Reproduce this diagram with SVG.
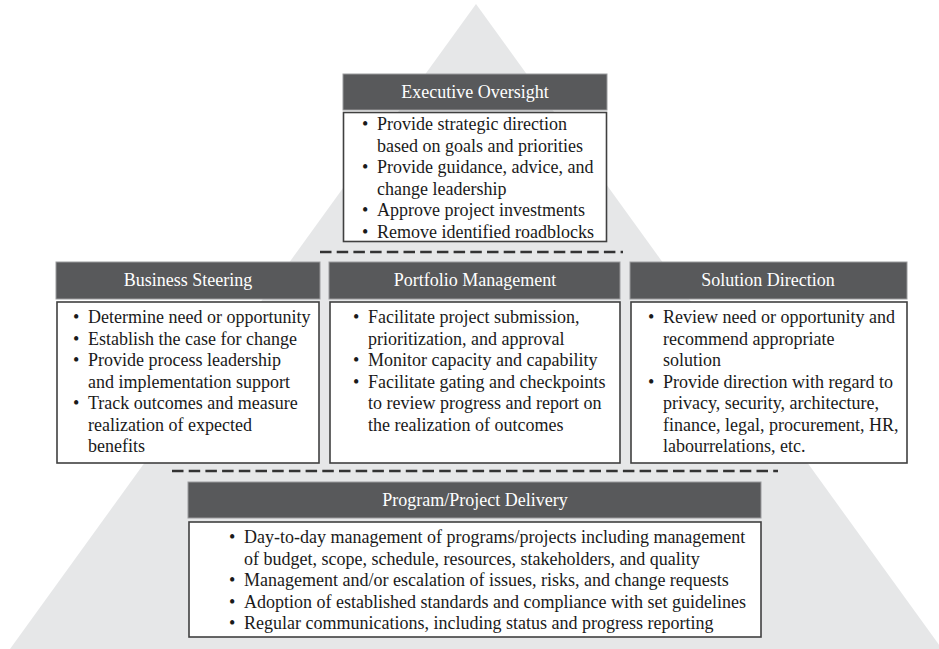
<svg xmlns="http://www.w3.org/2000/svg" width="939" height="649" viewBox="0 0 939 649">
<style>
.hdr{fill:#58595b;stroke:#9a9b9d;stroke-width:1}
.body{fill:#ffffff;stroke:#404040;stroke-width:1.6}
.ht{font-family:"Liberation Serif","Times New Roman",serif;font-size:18px;fill:#ffffff;text-anchor:middle}
.bt{font-family:"Liberation Serif","Times New Roman",serif;font-size:18px;fill:#1a1a1a}
.dash{stroke:#333333;stroke-width:2.5;stroke-dasharray:11.5 5.2;fill:none}
</style>
<rect x="0" y="0" width="939" height="649" fill="#ffffff"/>
<polygon id="pyramid" points="476,4 10,649 942,649" fill="#e6e7e8"/>
<g id="dividers">
<line class="dash" x1="320" y1="252" x2="623" y2="252"/>
<line class="dash" x1="172" y1="471" x2="778" y2="471"/>
</g>
<g id="executive-oversight">
<rect class="hdr" x="343" y="74" width="264" height="36"/>
<text class="ht" x="475" y="98">Executive Oversight</text>
<rect class="body" x="343.5" y="112.5" width="263" height="129"/>
<text class="bt" x="362" y="130">•</text><text class="bt" x="377" y="130">Provide strategic direction</text>
<text class="bt" x="377" y="151.5">based on goals and priorities</text>
<text class="bt" x="362" y="173">•</text><text class="bt" x="377" y="173">Provide guidance, advice, and</text>
<text class="bt" x="377" y="194.5">change leadership</text>
<text class="bt" x="362" y="216">•</text><text class="bt" x="377" y="216">Approve project investments</text>
<text class="bt" x="362" y="237.5">•</text><text class="bt" x="377" y="237.5">Remove identified roadblocks</text>
</g>
<g id="business-steering">
<rect class="hdr" x="56" y="262" width="264" height="37"/>
<text class="ht" x="188" y="286">Business Steering</text>
<rect class="body" x="57" y="302" width="262" height="161"/>
<text class="bt" x="73" y="323">•</text><text class="bt" x="88" y="323">Determine need or opportunity</text>
<text class="bt" x="73" y="344.5">•</text><text class="bt" x="88" y="344.5">Establish the case for change</text>
<text class="bt" x="73" y="366">•</text><text class="bt" x="88" y="366">Provide process leadership</text>
<text class="bt" x="88" y="387.5">and implementation support</text>
<text class="bt" x="73" y="409">•</text><text class="bt" x="88" y="409">Track outcomes and measure</text>
<text class="bt" x="88" y="430.5">realization of expected</text>
<text class="bt" x="88" y="452">benefits</text>
</g>
<g id="portfolio-management">
<rect class="hdr" x="329" y="262" width="291" height="37"/>
<text class="ht" x="475" y="286">Portfolio Management</text>
<rect class="body" x="330" y="302" width="290" height="161"/>
<text class="bt" x="353" y="323">•</text><text class="bt" x="368" y="323">Facilitate project submission,</text>
<text class="bt" x="368" y="344.5">prioritization, and approval</text>
<text class="bt" x="353" y="366">•</text><text class="bt" x="368" y="366">Monitor capacity and capability</text>
<text class="bt" x="353" y="387.5">•</text><text class="bt" x="368" y="387.5">Facilitate gating and checkpoints</text>
<text class="bt" x="368" y="409">to review progress and report on</text>
<text class="bt" x="368" y="430.5">the realization of outcomes</text>
</g>
<g id="solution-direction">
<rect class="hdr" x="630" y="262" width="277" height="37"/>
<text class="ht" x="768" y="286">Solution Direction</text>
<rect class="body" x="631" y="302" width="276" height="161"/>
<text class="bt" x="648" y="323">•</text><text class="bt" x="663" y="323">Review need or opportunity and</text>
<text class="bt" x="663" y="344.5">recommend appropriate</text>
<text class="bt" x="663" y="366">solution</text>
<text class="bt" x="648" y="387.5">•</text><text class="bt" x="663" y="387.5">Provide direction with regard to</text>
<text class="bt" x="663" y="409">privacy, security, architecture,</text>
<text class="bt" x="663" y="430.5">finance, legal, procurement, HR,</text>
<text class="bt" x="663" y="452">labourrelations, etc.</text>
</g>
<g id="program-project-delivery">
<rect class="hdr" x="188" y="482" width="573" height="36"/>
<text class="ht" x="475" y="506">Program/Project Delivery</text>
<rect class="body" x="189" y="522" width="572" height="115"/>
<text class="bt" x="229" y="543">•</text><text class="bt" x="244" y="543">Day-to-day management of programs/projects including management</text>
<text class="bt" x="244" y="564.5">of budget, scope, schedule, resources, stakeholders, and quality</text>
<text class="bt" x="229" y="586">•</text><text class="bt" x="244" y="586">Management and/or escalation of issues, risks, and change requests</text>
<text class="bt" x="229" y="607.5">•</text><text class="bt" x="244" y="607.5">Adoption of established standards and compliance with set guidelines</text>
<text class="bt" x="229" y="629">•</text><text class="bt" x="244" y="629">Regular communications, including status and progress reporting</text>
</g>
</svg>
